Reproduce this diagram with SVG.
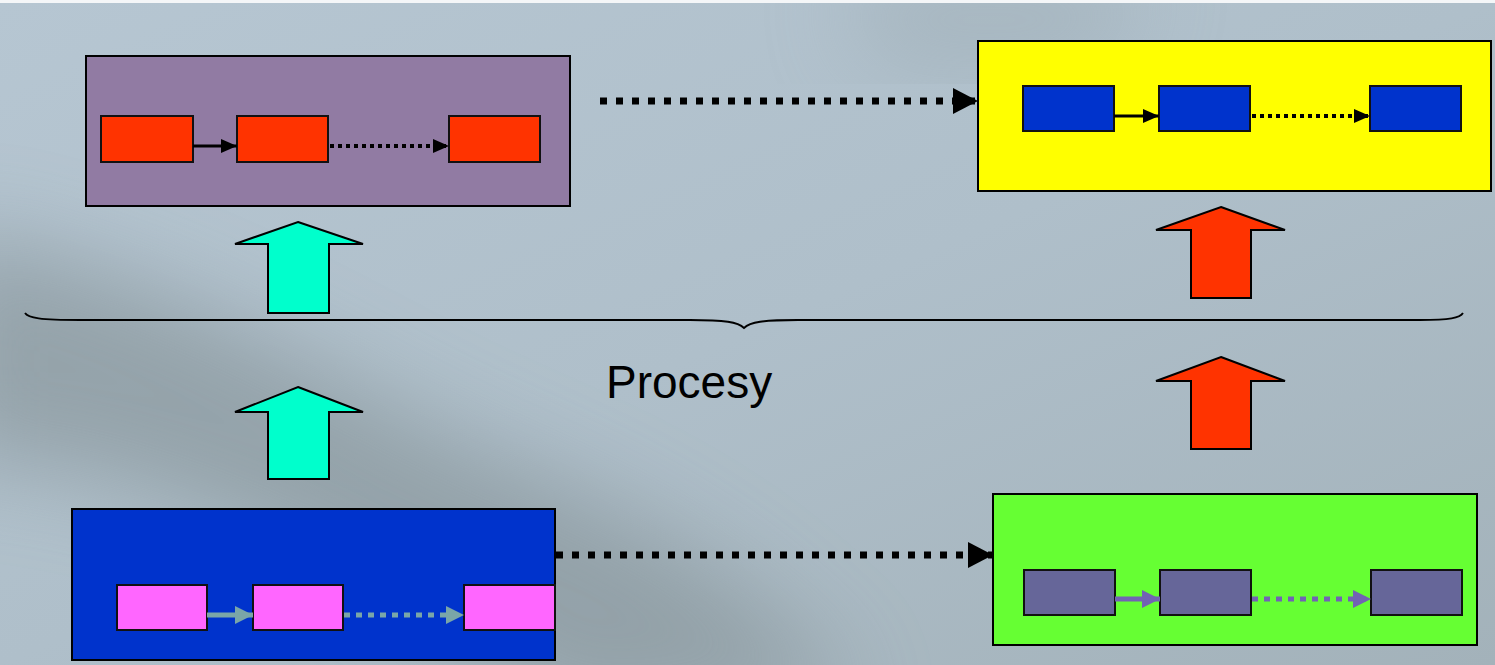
<svg xmlns="http://www.w3.org/2000/svg" width="1495" height="665" viewBox="0 0 1495 665">
  <defs>
    <linearGradient id="bg" x1="0" y1="0" x2="1" y2="1">
      <stop offset="0" stop-color="#b6c6d2"/>
      <stop offset="0.5" stop-color="#afbfca"/>
      <stop offset="1" stop-color="#a3b2ba"/>
    </linearGradient>
    <filter id="blur" x="-30%" y="-30%" width="160%" height="160%">
      <feGaussianBlur stdDeviation="45"/>
    </filter>
    <marker id="hBlack" markerUnits="userSpaceOnUse" viewBox="0 0 16 14" refX="16" refY="7" markerWidth="16" markerHeight="14" orient="auto">
      <path d="M0,0 L16,7 L0,14 Z" fill="#000"/>
    </marker>
    <marker id="hTeal" markerUnits="userSpaceOnUse" viewBox="0 0 18 18" refX="18" refY="9" markerWidth="18" markerHeight="18" orient="auto">
      <path d="M0,0 L18,9 L0,18 Z" fill="#7aa6a8"/>
    </marker>
    <marker id="hViolet" markerUnits="userSpaceOnUse" viewBox="0 0 18 18" refX="18" refY="9" markerWidth="18" markerHeight="18" orient="auto">
      <path d="M0,0 L18,9 L0,18 Z" fill="#7262b4"/>
    </marker>
    <marker id="hBig" markerUnits="userSpaceOnUse" viewBox="0 0 25 26" refX="25" refY="13" markerWidth="25" markerHeight="26" orient="auto">
      <path d="M0,0 L25,13 L0,26 Z" fill="#000"/>
    </marker>
  </defs>
  <style>
    .outer { stroke: #000; stroke-width: 2; }
    .inner { stroke: #111; stroke-width: 2; }
    .bigArrow { stroke: #000; stroke-width: 2; stroke-linejoin: miter; }
    .solidB { stroke: #000; stroke-width: 3; fill: none; }
    .dotB { stroke: #000; stroke-width: 4; stroke-dasharray: 4 4; fill: none; }
    .solidT { stroke: #7aa6a8; stroke-width: 5; fill: none; }
    .dotT { stroke: #7aa6a8; stroke-width: 5; stroke-dasharray: 6 6; fill: none; }
    .solidV { stroke: #7262b4; stroke-width: 5; fill: none; }
    .dotV { stroke: #7262b4; stroke-width: 5; stroke-dasharray: 6 6; fill: none; }
    .dotBig { stroke: #000; stroke-width: 7; stroke-dasharray: 7 9; fill: none; }
    .label { font-family: "Liberation Sans", Arial, sans-serif; font-size: 46px; fill: #000; }
  </style>

  <!-- background -->
  <rect x="0" y="0" width="1495" height="665" fill="url(#bg)"/>
  <path d="M-60,230 C120,260 250,330 420,420 C560,490 700,520 860,700 L560,720 C420,600 250,520 100,480 C20,460 -40,460 -60,460 Z" fill="#8b999f" opacity="0.75" filter="url(#blur)"/>
  <path d="M850,-20 L1150,-20 L1100,60 L870,60 Z" fill="#97a6ad" opacity="0.5" filter="url(#blur)"/>
  <rect x="0" y="0" width="1495" height="3" fill="#f4f6f8"/>

  <!-- nodes -->
  <g id="purple-block">
    <rect class="outer" x="86" y="56" width="484" height="150" fill="#917ba3"/>
    <rect class="inner" x="101" y="116" width="92" height="46" fill="#ff3300"/>
    <rect class="inner" x="237" y="116" width="91" height="46" fill="#ff3300"/>
    <rect class="inner" x="449" y="116" width="91" height="46" fill="#ff3300"/>
  </g>
  <g id="yellow-block">
    <rect class="outer" x="978" y="41" width="513" height="150" fill="#ffff00"/>
    <rect class="inner" x="1023" y="86" width="91" height="45" fill="#0033cc"/>
    <rect class="inner" x="1159" y="86" width="91" height="45" fill="#0033cc"/>
    <rect class="inner" x="1370" y="86" width="91" height="45" fill="#0033cc"/>
  </g>
  <g id="blue-block">
    <rect class="outer" x="72" y="509" width="483" height="151" fill="#0033cc"/>
    <rect class="inner" x="117" y="585" width="90" height="45" fill="#ff66ff"/>
    <rect class="inner" x="253" y="585" width="90" height="45" fill="#ff66ff"/>
    <rect class="inner" x="464" y="585" width="91" height="45" fill="#ff66ff"/>
  </g>
  <g id="green-block">
    <rect class="outer" x="993" y="494" width="484" height="151" fill="#66ff33"/>
    <rect class="inner" x="1024" y="570" width="91" height="45" fill="#666699"/>
    <rect class="inner" x="1160" y="570" width="91" height="45" fill="#666699"/>
    <rect class="inner" x="1371" y="570" width="91" height="45" fill="#666699"/>
  </g>
  <g id="cyan-arrow-upper">
    <polygon class="bigArrow" points="298,222 363,244 329,244 329,313 268,313 268,244 235,244" fill="#00ffcc"/>
  </g>
  <g id="cyan-arrow-lower">
    <polygon class="bigArrow" points="298,387 363,412 329,412 329,479 268,479 268,412 235,412" fill="#00ffcc"/>
  </g>
  <g id="red-arrow-upper">
    <polygon class="bigArrow" points="1221,207 1285,230 1251,230 1251,298 1191,298 1191,230 1156,230" fill="#ff3300"/>
  </g>
  <g id="red-arrow-lower">
    <polygon class="bigArrow" points="1221,357 1285,381 1251,381 1251,449 1191,449 1191,381 1156,381" fill="#ff3300"/>
  </g>
  <g id="brace">
    <path d="M25,313 C28,318 40,320 80,320 L690,320 C725,320 738,322 744,328 C750,322 763,320 798,320 L1420,320 C1450,320 1460,318 1463,313" fill="none" stroke="#000" stroke-width="1.8"/>
  </g>
  <g id="label">
    <text class="label" x="606" y="398">Procesy</text>
  </g>

  <!-- connectors -->
  <g id="connectors">
    <line class="dotBig" x1="600" y1="101" x2="978" y2="101" marker-end="url(#hBig)"/>
    <line class="dotBig" x1="556" y1="555" x2="993" y2="555" marker-end="url(#hBig)"/>

    <line class="solidB" x1="193" y1="146" x2="237" y2="146" marker-end="url(#hBlack)"/>
    <line class="dotB" x1="330" y1="146" x2="449" y2="146" marker-end="url(#hBlack)"/>

    <line class="solidB" x1="1114" y1="116" x2="1159" y2="116" marker-end="url(#hBlack)"/>
    <line class="dotB" x1="1252" y1="116" x2="1370" y2="116" marker-end="url(#hBlack)"/>

    <line class="solidT" x1="207" y1="615" x2="253" y2="615" marker-end="url(#hTeal)"/>
    <line class="dotT" x1="344" y1="615" x2="464" y2="615" marker-end="url(#hTeal)"/>

    <line class="solidV" x1="1115" y1="599" x2="1160" y2="599" marker-end="url(#hViolet)"/>
    <line class="dotV" x1="1252" y1="599" x2="1371" y2="599" marker-end="url(#hViolet)"/>
  </g>
</svg>
